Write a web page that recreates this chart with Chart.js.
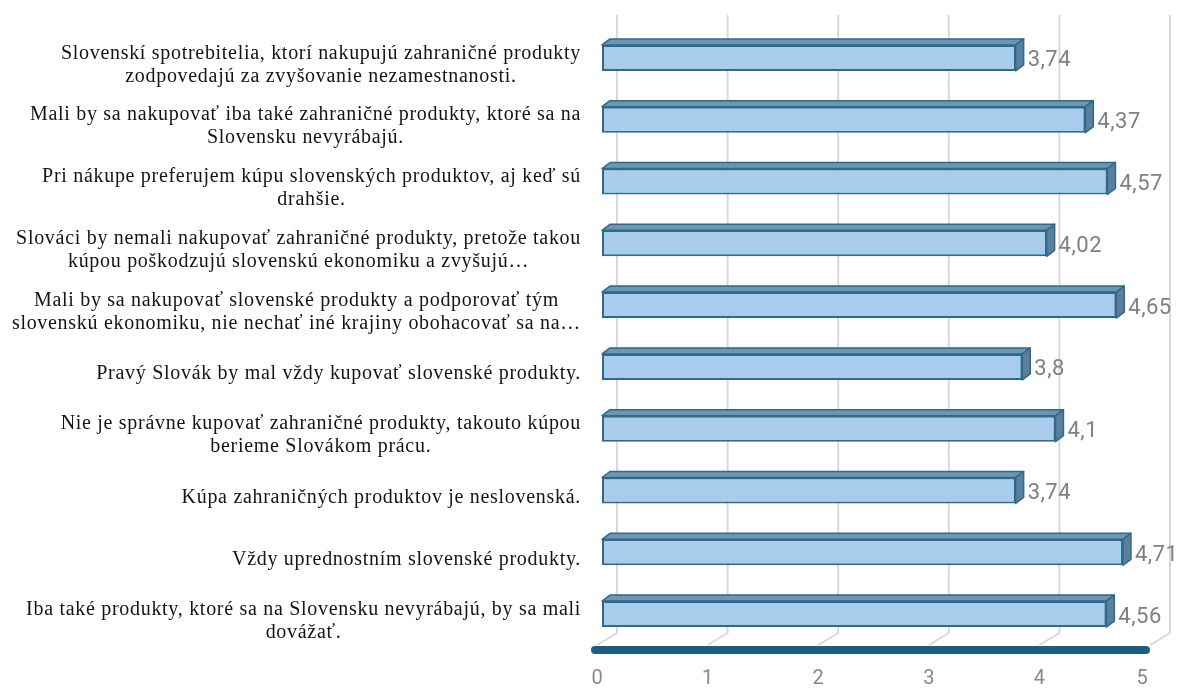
<!DOCTYPE html>
<html>
<head>
<meta charset="utf-8">
<script src="https://cdn.jsdelivr.net/npm/chart.js@4/dist/chart.umd.min.js"></script>
<style>
  html, body { margin: 0; padding: 0; background: #ffffff; }
  #wrap { width: 1178px; height: 690px; }
</style>
</head>
<body>
<div id="wrap"><canvas id="c" width="1178" height="690"></canvas></div>
<script>
// Statements (each entry is one wrapped label, line by line)
const categories = [
  ["Slovenskí spotrebitelia, ktorí nakupujú zahraničné produkty", "zodpovedajú za zvyšovanie nezamestnanosti."],
  ["Mali by sa nakupovať iba také zahraničné produkty, ktoré sa na", "Slovensku nevyrábajú."],
  ["Pri nákupe preferujem kúpu slovenských produktov, aj keď sú", "drahšie."],
  ["Slováci by nemali nakupovať zahraničné produkty, pretože takou", "kúpou poškodzujú slovenskú ekonomiku a zvyšujú…"],
  ["Mali by sa nakupovať slovenské produkty a podporovať tým", "slovenskú ekonomiku, nie nechať iné krajiny obohacovať sa na…"],
  ["Pravý Slovák by mal vždy kupovať slovenské produkty."],
  ["Nie je správne kupovať zahraničné produkty, takouto kúpou", "berieme Slovákom prácu."],
  ["Kúpa zahraničných produktov je neslovenská."],
  ["Vždy uprednostním slovenské produkty."],
  ["Iba také produkty, ktoré sa na Slovensku nevyrábajú, by sa mali", "dovážať."]
];

// Mean agreement score per statement
const scores = [3.74, 4.37, 4.57, 4.02, 4.65, 3.8, 4.1, 3.74, 4.71, 4.56];

// Value axis ticks
const xTicks = [0, 1, 2, 3, 4, 5];

const DEPTH_X = 8, DEPTH_Y = 6;       // bar extrusion
const WALL_DX = 15, FLOOR_DX = -5;    // back wall / front floor offsets
const FLOOR_FRONT_Y = 650;

function fmt(v) { return String(v).replace('.', ','); }

// Back wall gridlines and floor, drawn behind the bars
const wallAndFloor = {
  id: 'wallAndFloor',
  beforeDatasetsDraw(chart) {
    const ctx = chart.ctx, xs = chart.scales.x;
    const top = 15, backY = 633;
    ctx.save();
    ctx.strokeStyle = '#d9d9d9';
    ctx.lineWidth = 2;
    xTicks.forEach(v => {
      const xf = xs.getPixelForValue(v);
      const xb = xf + WALL_DX;
      ctx.beginPath();
      ctx.moveTo(xb, top);
      ctx.lineTo(xb, backY);
      ctx.lineTo(xf + FLOOR_DX, FLOOR_FRONT_Y - 5);
      ctx.stroke();
    });
    // floor front edge
    ctx.strokeStyle = '#1b5e80';
    ctx.lineWidth = 8;
    ctx.lineCap = 'round';
    ctx.beginPath();
    ctx.moveTo(xs.getPixelForValue(xTicks[0]) + FLOOR_DX - 2, FLOOR_FRONT_Y);
    ctx.lineTo(xs.getPixelForValue(xTicks[xTicks.length - 1]) + FLOOR_DX - 4, FLOOR_FRONT_Y);
    ctx.stroke();
    // tick labels along the floor
    ctx.fillStyle = '#898989';
    ctx.font = '20px Roboto';
    ctx.textAlign = 'center';
    ctx.textBaseline = 'middle';
    xTicks.forEach((v, i) => {
      const inset = i === xTicks.length - 1 ? -8 : 0;
      ctx.fillText(String(v), xs.getPixelForValue(v) + FLOOR_DX + inset, 679);
    });
    ctx.restore();
  }
};

// Top and side faces of each bar, plus value labels
const extrude = {
  id: 'extrude',
  afterDatasetsDraw(chart) {
    const ctx = chart.ctx;
    const meta = chart.getDatasetMeta(0);
    ctx.save();
    ctx.lineJoin = 'round';
    meta.data.forEach((bar, i) => {
      const p = bar.getProps(['x', 'y', 'base', 'height'], true);
      const l = p.base, r = p.x, t = p.y - p.height / 2, b = p.y + p.height / 2;
      ctx.lineWidth = 1.5;
      ctx.strokeStyle = '#2d6a8c';
      // top face
      ctx.fillStyle = '#7095b2';
      ctx.beginPath();
      ctx.moveTo(l, t);
      ctx.lineTo(l + DEPTH_X, t - DEPTH_Y);
      ctx.lineTo(r + DEPTH_X, t - DEPTH_Y);
      ctx.lineTo(r, t);
      ctx.closePath();
      ctx.fill();
      ctx.stroke();
      // side face
      ctx.fillStyle = '#5b7f9c';
      ctx.beginPath();
      ctx.moveTo(r, t);
      ctx.lineTo(r + DEPTH_X, t - DEPTH_Y);
      ctx.lineTo(r + DEPTH_X, b - DEPTH_Y);
      ctx.lineTo(r, b);
      ctx.closePath();
      ctx.fill();
      ctx.stroke();
      // value label
      ctx.fillStyle = '#808080';
      ctx.font = '22px Roboto';
      ctx.letterSpacing = '0.5px';
      ctx.textAlign = 'left';
      ctx.textBaseline = 'middle';
      ctx.fillText(fmt(scores[i]), r + DEPTH_X + 4, p.y + 3);
      ctx.letterSpacing = '0px';
    });
    ctx.restore();
  }
};

// Wrapped category labels: block right-aligned, lines centred within it
const categoryLabels = {
  id: 'categoryLabels',
  afterDraw(chart) {
    const ctx = chart.ctx, ys = chart.scales.y;
    const right = 581, lineH = 23;
    ctx.save();
    ctx.font = '20px "Liberation Serif"';
    ctx.letterSpacing = '0.7px';
    ctx.fillStyle = '#141414';
    ctx.textAlign = 'center';
    ctx.textBaseline = 'middle';
    categories.forEach((lines, i) => {
      const w = Math.max(...lines.map(s => ctx.measureText(s).width));
      const cx = right - w / 2;
      const cy = ys.getPixelForValue(i) + 7;
      lines.forEach((s, k) => {
        ctx.fillText(s, cx, cy + (k - (lines.length - 1) / 2) * lineH);
      });
    });
    ctx.restore();
  }
};

new Chart(document.getElementById('c'), {
  type: 'bar',
  data: {
    labels: categories,
    datasets: [{
      data: scores,
      backgroundColor: '#a9cbec',
      borderColor: '#2d6a8c',
      borderWidth: 2,
      borderSkipped: false,
      barPercentage: 0.42,
      categoryPercentage: 1
    }]
  },
  options: {
    indexAxis: 'y',
    responsive: false,
    animation: false,
    events: [],
    layout: { padding: { left: 602, right: 23, top: 27, bottom: 45 } },
    plugins: { legend: { display: false }, tooltip: { enabled: false } },
    scales: {
      x: { display: false, min: 0, max: 5 },
      y: { display: false }
    }
  },
  plugins: [wallAndFloor, extrude, categoryLabels]
});
</script>
</body>
</html>
